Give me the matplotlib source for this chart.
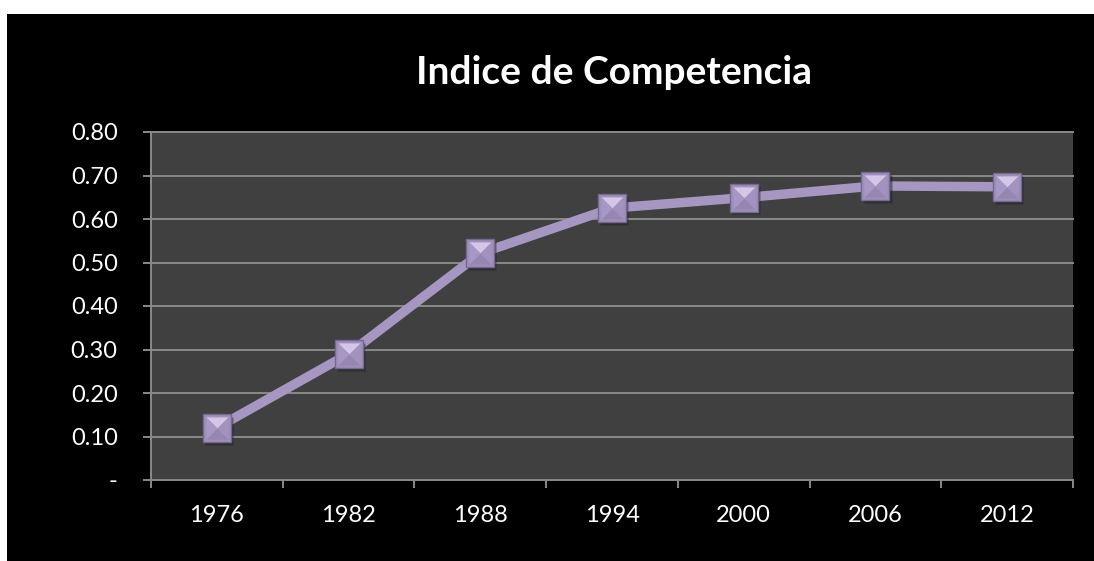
import matplotlib
matplotlib.use("Agg")
import matplotlib.pyplot as plt
from matplotlib.patches import Rectangle
from matplotlib.ticker import FixedLocator, FuncFormatter
import matplotlib.transforms as mtransforms
import numpy as np

years = ["1976", "1982", "1988", "1994", "2000", "2006", "2012"]
values = [0.120, 0.290, 0.521, 0.625, 0.649, 0.676, 0.674]
yticks = [0.0, 0.1, 0.2, 0.3, 0.4, 0.5, 0.6, 0.7, 0.8]
title = "Indice de Competencia"

plt.rcParams['font.family'] = ['Lato', 'DejaVu Sans']

W, H = 1094, 561
fig = plt.figure(figsize=(W / 100, H / 100), dpi=100, facecolor="white")
fig.patches.append(Rectangle((7 / W, 0), 1 - 7 / W, 1 - 14 / H, transform=fig.transFigure,
                             facecolor="black", edgecolor="none", zorder=-10))

left, right, top, bottom = 151, 1073, 132, 480
ax = fig.add_axes([left / W, 1 - bottom / H, (right - left) / W, (bottom - top) / H])
ax.set_zorder(1)
ax.set_facecolor("#404040")

n = len(years)
x = np.arange(n) + 0.5
ax.set_xlim(0, n)
ax.set_ylim(0, 0.8)

grid_c = "#8a8a8a"
for yv in yticks[1:]:
    ax.axhline(yv, color=grid_c, lw=1.4, zorder=1, clip_on=False)

ax.plot(x, values, color="#A597C2", lw=6.8, zorder=3, solid_capstyle="butt")

ms = 19.5
shadow = ax.transData + mtransforms.ScaledTranslation(1.5 / 72, -2 / 72, fig.dpi_scale_trans)
ax.plot(x, values, ls="none", marker="s", ms=ms, mfc="#1e1e1e", mec="none", alpha=0.5,
        zorder=3.5, transform=shadow)
ax.plot(x, values, ls="none", marker="s", ms=ms, mfc="#9E90BB", mec="#75698F", mew=1.0, zorder=4)
tri_top = [(-1, 1), (1, 1), (0, 0), (-1, 1)]
tri_bot = [(-1, -1), (1, -1), (0, 0), (-1, -1)]
tri_l = [(-1, -1), (-1, 1), (0, 0), (-1, -1)]
tri_r = [(1, -1), (1, 1), (0, 0), (1, -1)]
inner = ms * 0.82
ax.plot(x, values, ls="none", marker=tri_top, ms=inner, mfc="#D4C6E6", mec="none", zorder=5)
ax.plot(x, values, ls="none", marker=tri_bot, ms=inner, mfc="#9587B1", mec="none", zorder=5)
ax.plot(x, values, ls="none", marker=tri_l, ms=inner, mfc="#A698C4", mec="none", zorder=5)
ax.plot(x, values, ls="none", marker=tri_r, ms=inner, mfc="#A193BE", mec="none", zorder=5)

for s in ["top", "right"]:
    ax.spines[s].set_visible(False)
for s in ["left", "bottom"]:
    ax.spines[s].set_color(grid_c)
    ax.spines[s].set_linewidth(1.4)
    ax.spines[s].set_zorder(2)

ax.yaxis.set_major_locator(FixedLocator(yticks))
ax.yaxis.set_major_formatter(FuncFormatter(lambda v, p: "-" if abs(v) < 1e-9 else f"{v:.2f}"))
ax.tick_params(axis="y", direction="out", length=6, width=1.4, color=grid_c,
               labelcolor="white", labelsize=17, pad=18)

ax.xaxis.set_major_locator(FixedLocator(np.arange(n + 1)))
ax.xaxis.set_major_formatter(FuncFormatter(lambda v, p: ""))
ax.set_xticks(x, minor=True)
ax.set_xticklabels(years, minor=True)
ax.tick_params(axis="x", which="major", direction="out", length=6, width=1.4, color=grid_c)
ax.tick_params(axis="x", which="minor", length=0, labelcolor="white", labelsize=17, pad=18)

fig.text(614 / W, 1 - 73 / H, title, color="white", fontsize=28, fontweight="bold",
         ha="center", va="center")

fig.savefig("out.png", dpi=100, facecolor=fig.get_facecolor())
